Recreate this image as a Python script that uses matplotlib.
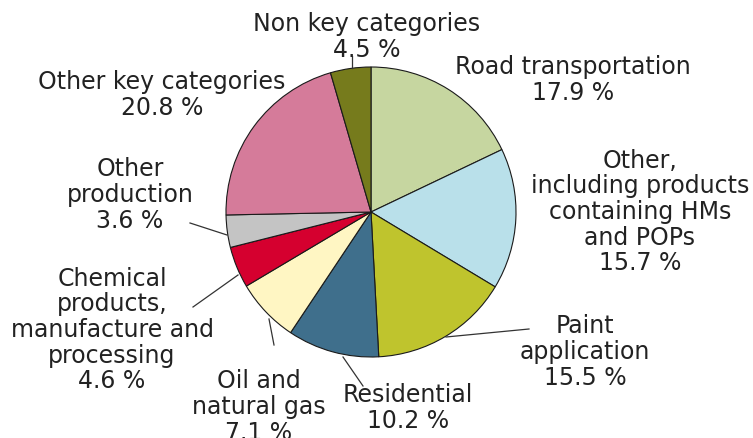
import matplotlib
matplotlib.use('Agg')
from matplotlib import pyplot as plt

# Share of emissions by source category (%), clockwise from the top
categories = ['Road transportation',
              'Other,\nincluding products\ncontaining HMs\nand POPs',
              'Paint\napplication',
              'Residential',
              'Oil and\nnatural gas',
              'Chemical\nproducts,\nmanufacture and\nprocessing',
              'Other\nproduction',
              'Other key categories',
              'Non key categories']
shares = [17.9, 15.7, 15.5, 10.2, 7.1, 4.6, 3.6, 20.8, 4.5]
colors = ['#c6d6a0', '#b9e0ea', '#bfc42d', '#3f6f8c', '#fff6c3',
          '#d5002f', '#c4c4c4', '#d57b9a', '#767b1c']

W, H = 753, 439

# label block centres and leader lines, in pixel coords (y from top)
label_pos = [(573, 80), (640, 212), (585, 352), (408, 408), (259, 407),
             (112, 330), (130, 195), (162, 95), (367, 37)]
leaders = [None,
           None,
           ((446, 338), (529, 330)),
           ((343, 358), (363, 387)),
           ((269, 320), (274, 346)),
           ((238, 276), (193, 308)),
           ((227, 236), (190, 224)),
           None,
           ((352, 69), (352, 57))]

fig = plt.figure(figsize=(W / 100, H / 100), dpi=100)
ax = fig.add_axes([0, 0, 1, 1])
ax.set_xlim(0, W)
ax.set_ylim(0, H)
ax.set_aspect('equal')
ax.axis('off')

ax.pie(shares, colors=colors, startangle=90, counterclock=False,
       center=(371, H - 213), radius=145,
       wedgeprops=dict(edgecolor='#1a1a1a', linewidth=0.8))
ax.set_xlim(0, W)
ax.set_ylim(0, H)

for name, val, pos, line in zip(categories, shares, label_pos, leaders):
    ax.text(pos[0], H - pos[1], name + '\n' + '%.1f %%' % val,
            ha='center', va='center', multialignment='center',
            fontsize=17, color='#222222', linespacing=1.08)
    if line is not None:
        (x0, y0), (x1, y1) = line
        ax.plot([x0, x1], [H - y0, H - y1], color='#333333', lw=0.9)

fig.savefig('out.png', dpi=100)
